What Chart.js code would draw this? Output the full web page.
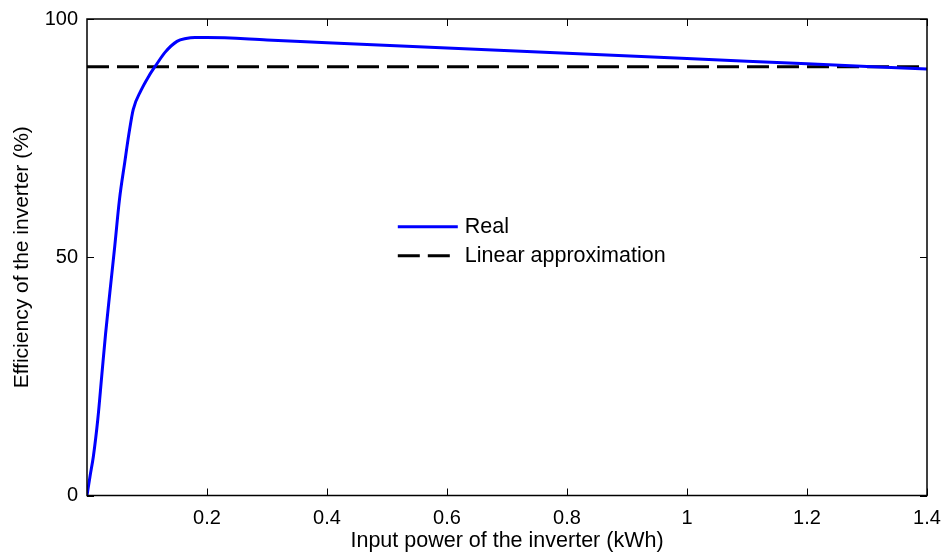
<!DOCTYPE html>
<html>
<head>
<meta charset="utf-8">
<script src="https://cdn.jsdelivr.net/npm/chart.js@4.4.1/dist/chart.umd.min.js"></script>
<style>
  html, body { margin: 0; padding: 0; background: #fff; }
  #wrap { width: 942px; height: 552px; }
</style>
</head>
<body>
<div id="wrap"><canvas id="c" width="942" height="552"></canvas></div>
<script>
// input power (kWh) and real inverter efficiency (%)
const powerX = [0, 0.005, 0.0106, 0.018, 0.0245, 0.031, 0.038, 0.046, 0.054, 0.063, 0.07, 0.077,
  0.09, 0.103, 0.116, 0.13, 0.15, 0.165, 0.18, 0.2, 0.3, 0.4, 0.6, 0.8, 1.0, 1.2, 1.4];
const realEff = [0, 4, 8.2, 16, 25, 34, 42.5, 52, 62, 70, 76, 81,
  85, 88, 90.5, 93, 95.3, 95.9, 96.1, 96.1, 95.6, 95, 93.9, 92.8, 91.7, 90.6, 89.5];

// linear approximation
const linearX = [0, 1.4];
const linearEff = [90, 90];

const xTicks = [0.2, 0.4, 0.6, 0.8, 1, 1.2, 1.4];
const yTicks = [0, 50, 100];

const FONT = 'Liberation Sans, Arial, Helvetica, sans-serif';

// 画框和朝内的刻度 (MATLAB 风格)
const frameTicks = {
  id: 'frameTicks',
  afterDraw(chart) {
    const { ctx, chartArea: a, scales } = chart;
    ctx.save();
    ctx.strokeStyle = '#000';
    ctx.lineWidth = 1.5;
    ctx.strokeRect(a.left, a.top, a.right - a.left, a.bottom - a.top);
    ctx.lineWidth = 1;
    const len = 7;
    ctx.beginPath();
    xTicks.forEach(v => {
      const px = Math.round(scales.x.getPixelForValue(v)) + 0.5;
      ctx.moveTo(px, a.bottom); ctx.lineTo(px, a.bottom - len);
      ctx.moveTo(px, a.top); ctx.lineTo(px, a.top + len);
    });
    yTicks.forEach(v => {
      const py = Math.round(scales.y.getPixelForValue(v)) + 0.5;
      ctx.moveTo(a.left, py); ctx.lineTo(a.left + len, py);
      ctx.moveTo(a.right, py); ctx.lineTo(a.right - len, py);
    });
    ctx.stroke();
    ctx.restore();
  }
};

// 图例放在绘图区中间
const midLegend = {
  id: 'midLegend',
  afterDraw(chart) {
    const { ctx, chartArea: a } = chart;
    const x0 = a.left + 0.370 * (a.right - a.left);
    const y0 = a.top + 0.436 * (a.bottom - a.top);
    const rows = chart.data.datasets;
    ctx.save();
    ctx.font = '21.5px ' + FONT;
    ctx.textBaseline = 'middle';
    rows.forEach((ds, i) => {
      const y = y0 + i * 29;
      ctx.strokeStyle = ds.borderColor;
      ctx.lineWidth = ds.borderWidth;
      ctx.setLineDash(ds.borderDash || []);
      ctx.beginPath();
      ctx.moveTo(x0, y); ctx.lineTo(x0 + 60, y);
      ctx.stroke();
      ctx.setLineDash([]);
      ctx.fillStyle = '#000';
      ctx.fillText(ds.label, x0 + 67, y);
    });
    ctx.restore();
  }
};

new Chart(document.getElementById('c'), {
  type: 'line',
  data: {
    datasets: [
      {
        label: 'Real',
        data: powerX.map((x, i) => ({ x, y: realEff[i] })),
        borderColor: '#0000ff',
        borderWidth: 3,
        pointRadius: 0,
        cubicInterpolationMode: 'monotone',
        fill: false
      },
      {
        label: 'Linear approximation',
        data: linearX.map((x, i) => ({ x, y: linearEff[i] })),
        borderColor: '#000000',
        borderWidth: 3,
        borderDash: [22, 8],
        pointRadius: 0,
        fill: false
      }
    ]
  },
  options: {
    responsive: false,
    animation: false,
    layout: { padding: { left: 0, top: 19, right: 15, bottom: 0 } },
    plugins: { legend: { display: false }, tooltip: { enabled: false } },
    scales: {
      x: {
        type: 'linear',
        min: 0, max: 1.4,
        afterBuildTicks(s) { s.ticks = xTicks.map(v => ({ value: v })); },
        afterFit(s) { s.height = 56.5; s.paddingRight = 0; s.paddingLeft = 0; },
        grid: { display: false, drawTicks: false },
        border: { display: false },
        ticks: {
          color: '#000', padding: 11, maxRotation: 0,
          font: { family: FONT, size: 20 },
          callback: v => String(v)
        },
        title: {
          display: true, text: 'Input power of the inverter (kWh)', color: '#000',
          font: { family: FONT, size: 21.5, lineHeight: 1.0 }, padding: { top: 0, bottom: 0 }
        }
      },
      y: {
        min: 0, max: 100,
        afterBuildTicks(s) { s.ticks = yTicks.map(v => ({ value: v })); },
        afterFit(s) { s.width = 87; s.paddingTop = 0; s.paddingBottom = 0; },
        grid: { display: false, drawTicks: false },
        border: { display: false },
        ticks: {
          color: '#000', padding: 9,
          font: { family: FONT, size: 20 }
        },
        title: {
          display: true, text: 'Efficiency of the inverter (%)', color: '#000',
          font: { family: FONT, size: 21 }, padding: { top: 10, bottom: 0 }
        }
      }
    }
  },
  plugins: [frameTicks, midLegend]
});
</script>
</body>
</html>
